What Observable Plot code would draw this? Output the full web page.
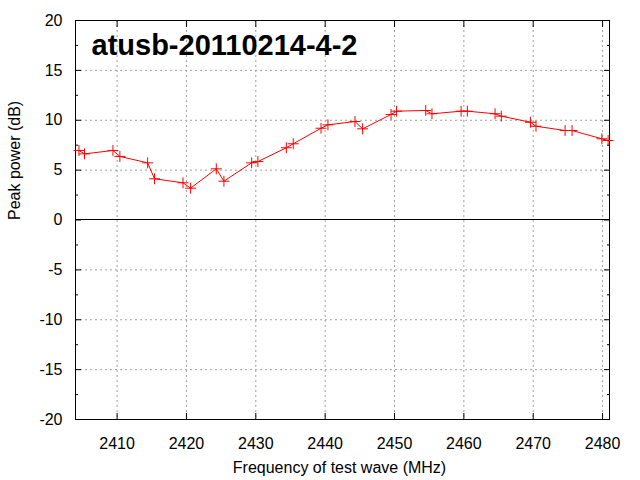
<!DOCTYPE html>
<html>
<head>
<meta charset="utf-8">
<script src="https://cdn.jsdelivr.net/npm/d3@7"></script>
<script src="https://cdn.jsdelivr.net/npm/@observablehq/plot@0.6"></script>
<style>
  html, body { margin: 0; padding: 0; background: #fff; }
  svg { display: block; }
</style>
</head>
<body>
<div id="chart"></div>
<script>
const title = "atusb-20110214-4-2";
const xLabel = "Frequency of test wave (MHz)";
const yLabel = "Peak power (dB)";

const freq = [2404.5, 2405.3, 2409.4, 2410.4, 2414.4, 2415.4, 2419.5, 2420.6,
              2424.3, 2425.4, 2429.4, 2430.3, 2434.4, 2435.4, 2439.4, 2440.4,
              2444.3, 2445.4, 2449.5, 2450.3, 2454.5, 2455.4, 2459.6, 2460.5,
              2464.5, 2465.4, 2469.6, 2470.4, 2474.6, 2475.6, 2479.9, 2480.8];
const power = [6.97, 6.63, 6.97, 6.37, 5.73, 4.13, 3.73, 3.19,
               5.13, 3.89, 5.73, 5.86, 7.24, 7.64, 9.20, 9.54,
               9.87, 9.14, 10.58, 10.91, 10.98, 10.65, 10.91, 10.91,
               10.65, 10.41, 9.80, 9.40, 8.97, 8.97, 8.14, 7.97];

const xTicks = [2410, 2420, 2430, 2440, 2450, 2460, 2470, 2480];
const yTicks = [-20, -15, -10, -5, 0, 5, 10, 15, 20];
const yMinor = [-17.5, -12.5, -7.5, -2.5, 2.5, 7.5, 12.5, 17.5];
const yGrid = [-15, -10, -5, 5, 10, 15];

const data = freq.map((f, i) => ({f, p: power[i]}));
const fmt = d => String(d);
const gridStyle = {stroke: "#a0a0a0", strokeOpacity: 1, strokeWidth: 1, strokeDasharray: "2,3"};

const chart = Plot.plot({
  width: 640,
  height: 480,
  marginLeft: 75,
  marginRight: 31,
  marginTop: 20,
  marginBottom: 61,
  x: {domain: [2404, 2481]},
  y: {domain: [-20, 20]},
  style: {fontFamily: "'Liberation Sans', Arial, sans-serif", fontSize: "16px", color: "#000", background: "#fff"},
  marks: [
    Plot.gridX(xTicks, gridStyle),
    Plot.gridY(yGrid, gridStyle),
    Plot.ruleY([0], {stroke: "#000", strokeWidth: 1, dy: -0.5}),
    Plot.axisX(xTicks, {anchor: "bottom", tickSize: -6, tickPadding: 24, tickFormat: fmt, label: null, fontSize: 16}),
    Plot.axisX(xTicks, {anchor: "top", tickSize: -6, tickFormat: () => "", label: null}),
    Plot.axisY(yTicks, {anchor: "left", tickSize: -6, tickPadding: 19, tickFormat: fmt, label: null, fontSize: 16}),
    Plot.axisY(yTicks, {anchor: "right", tickSize: -6, tickFormat: () => "", label: null}),
    Plot.axisY(yMinor, {anchor: "left", tickSize: -3, tickFormat: () => "", label: null}),
    Plot.axisY(yMinor, {anchor: "right", tickSize: -3, tickFormat: () => "", label: null}),
    Plot.frame({stroke: "#000", strokeWidth: 1}),
    Plot.line(data, {x: "f", y: "p", stroke: "#ff0000", strokeWidth: 1}),
    Plot.dot(data, {x: "f", y: "p", symbol: "plus", r: 3.6, stroke: "#ff0000", strokeWidth: 1}),
    Plot.text([title], {frameAnchor: "top-left", text: d => d, dx: 16, dy: 14, lineAnchor: "top", textAnchor: "start",
                        fontSize: 29, fontWeight: "bold", fill: "#000"}),
    Plot.text([xLabel], {frameAnchor: "bottom", text: d => d, dy: 48, dx: -3, lineAnchor: "middle", fill: "#000", fontSize: 16}),
    Plot.text([yLabel], {frameAnchor: "left", text: d => d, dx: -61, rotate: -90, lineAnchor: "middle", fill: "#000", fontSize: 16})
  ]
});
document.getElementById("chart").append(chart);
</script>
</body>
</html>
